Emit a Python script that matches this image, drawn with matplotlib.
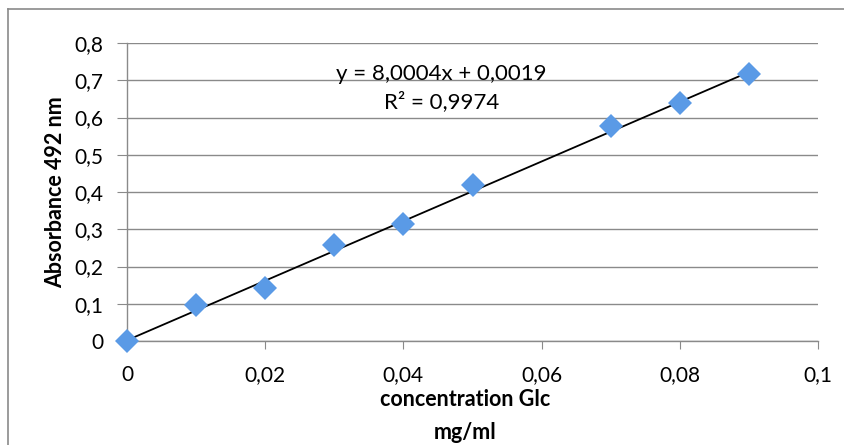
import numpy as np
import matplotlib.pyplot as plt
from matplotlib.lines import Line2D

plt.rcParams['font.family'] = ['Lato', 'DejaVu Sans']

# glucose standard curve
conc = [0, 0.01, 0.02, 0.03, 0.04, 0.05, 0.07, 0.08, 0.09]
absorb = [0, 0.096, 0.142, 0.257, 0.313, 0.420, 0.577, 0.640, 0.718]
slope = 8.0004
intercept = 0.0019
r2 = 0.9974

xticks = [0, 0.02, 0.04, 0.06, 0.08, 0.1]
xtick_labels = ['0', '0,02', '0,04', '0,06', '0,08', '0,1']
yticks = [0, 0.1, 0.2, 0.3, 0.4, 0.5, 0.6, 0.7, 0.8]
ytick_labels = ['0', '0,1', '0,2', '0,3', '0,4', '0,5', '0,6', '0,7', '0,8']

fig = plt.figure(figsize=(8.44, 4.45), dpi=100)
ax = fig.add_axes([127/844, 1 - 341/445, 691/844, 298/445])

ax.set_xlim(0, 0.1)
ax.set_ylim(0, 0.8)
ax.set_xticks(xticks)
ax.set_xticklabels(xtick_labels)
ax.set_yticks(yticks)
ax.set_yticklabels(ytick_labels)

ax.grid(axis='y', color='#8a8a8a', linewidth=1.0, zorder=0)
for s in ['top', 'right']:
    ax.spines[s].set_visible(False)
for s in ['left', 'bottom']:
    ax.spines[s].set_color('#8a8a8a')
    ax.spines[s].set_linewidth(1.0)
ax.tick_params(axis='y', length=7, color='#8a8a8a', labelsize=15, pad=10)
ax.tick_params(axis='x', length=6, color='#8a8a8a', labelsize=15, pad=11)

# fitted line
xfit = np.array([conc[0], conc[-1]])
ax.plot(xfit, slope * xfit + intercept, color='black', linewidth=1.3, zorder=3)

ax.plot(conc, absorb, linestyle='none', marker='D', markersize=12.5,
        color='#5a9ae6', markeredgewidth=0, zorder=4, clip_on=False)

ax.text(0.0455, 0.718, 'y = 8,0004x + 0,0019', ha='center', va='center', fontsize=16)
ax.text(0.0455, 0.643, 'R² = 0,9974', ha='center', va='center', fontsize=16)

ax.set_ylabel('Absorbance 492 nm', fontsize=15.5, fontweight='bold', labelpad=6)
fig.text(465/844, 1 - 416/445, 'concentration Glc\nmg/ml', ha='center', va='center',
         fontsize=15.5, fontweight='bold', linespacing=1.65)

# chart frame
fig.add_artist(Line2D([8/844, 1], [1 - 9/445, 1 - 9/445], color='#8a8a8a', linewidth=1.2))
fig.add_artist(Line2D([8/844, 8/844], [0, 1 - 9/445], color='#8a8a8a', linewidth=1.2))

fig.savefig('out.png', dpi=100)
